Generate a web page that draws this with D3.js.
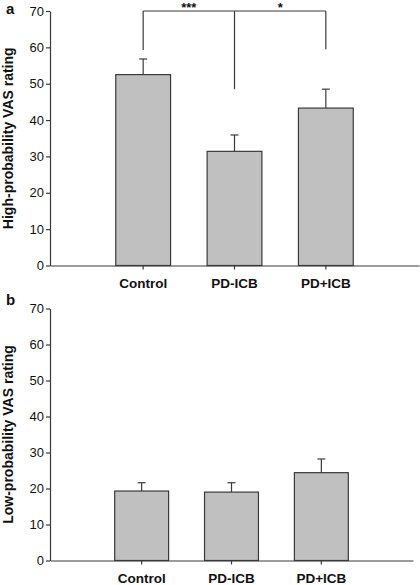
<!DOCTYPE html>
<html>
<head>
<meta charset="utf-8">
<script src="https://cdn.jsdelivr.net/npm/d3@7"></script>
<style>
  html, body { margin: 0; padding: 0; background: #fff; }
  svg { display: block; }
  text { font-family: "Liberation Sans", Arial, sans-serif; fill: #111; }
</style>
</head>
<body>
<svg id="chart" width="420" height="585"></svg>
<script>
// ---- data ----
const categories = ["Control", "PD-ICB", "PD+ICB"];
const highMeans = [52.5, 31.4, 43.3];
const highErr = [4.3, 4.5, 5.2];
const lowMeans = [19.3, 19.0, 24.4];
const lowErr = [2.3, 2.6, 3.8];
const yTicks = [0, 10, 20, 30, 40, 50, 60, 70];
const panelLetters = ["a", "b"];
const yTitles = ["High-probability VAS rating", "Low-probability VAS rating"];
// significance bracket (panel a): top level and drop ends per category
const bracketLevel = 70;
const bracketDrops = [59.3, 48.5, 59.5];
const sigLabels = ["***", "*"];

const svg = d3.select("#chart");
const stroke = "#3a3a3a";

function panel(cfg) {
  const g = svg.append("g");
  const y = d3.scaleLinear().domain([0, 70]).range([cfg.y0, cfg.y1]);
  const x = d3.scaleBand().domain(categories).range([50, cfg.xEnd])
    .paddingInner(0.4).paddingOuter(0.72);
  const cx = c => x(c) + x.bandwidth() / 2;

  // bars
  g.selectAll("rect.bar").data(categories).join("rect")
    .attr("x", c => x(c)).attr("width", x.bandwidth())
    .attr("y", (c, i) => y(cfg.means[i]))
    .attr("height", (c, i) => y(0) - y(cfg.means[i]))
    .attr("fill", "#c0c0c0").attr("stroke", stroke).attr("stroke-width", 1.2);

  // error bars (upper only)
  g.selectAll("line.err").data(categories).join("line")
    .attr("x1", cx).attr("x2", cx)
    .attr("y1", (c, i) => y(cfg.means[i]))
    .attr("y2", (c, i) => y(cfg.means[i] + cfg.errs[i]))
    .attr("stroke", stroke).attr("stroke-width", 1.2);
  g.selectAll("line.cap").data(categories).join("line")
    .attr("x1", c => cx(c) - 4).attr("x2", c => cx(c) + 4)
    .attr("y1", (c, i) => y(cfg.means[i] + cfg.errs[i]))
    .attr("y2", (c, i) => y(cfg.means[i] + cfg.errs[i]))
    .attr("stroke", stroke).attr("stroke-width", 1.2);

  // y axis
  const ya = g.append("g").attr("transform", "translate(50,0)")
    .call(d3.axisLeft(y).tickValues(yTicks).tickSize(4).tickSizeOuter(0).tickPadding(2));
  ya.selectAll("path, line").attr("stroke", stroke).attr("stroke-width", 1.2);
  ya.selectAll("text").attr("font-size", 13).attr("fill", "#111")
    .attr("font-family", "'Liberation Sans', Arial, sans-serif");

  // x axis
  const xa = g.append("g").attr("transform", `translate(0,${cfg.y0})`)
    .call(d3.axisBottom(x).tickSize(4).tickSizeOuter(0).tickPadding(9));
  xa.selectAll("path, line").attr("stroke", stroke).attr("stroke-width", 1.2);
  xa.selectAll("text").attr("font-size", 13.5).attr("font-weight", "bold").attr("fill", "#111")
    .attr("font-family", "'Liberation Sans', Arial, sans-serif");

  // y title
  const ymid = (cfg.y0 + cfg.y1) / 2;
  g.append("text")
    .attr("transform", `translate(13,${ymid}) rotate(-90)`)
    .attr("text-anchor", "middle")
    .attr("font-size", 14).attr("font-weight", "bold")
    .text(cfg.title);

  // panel letter
  g.append("text").attr("x", 6).attr("y", cfg.letterY)
    .attr("font-size", 15).attr("font-weight", "bold").text(cfg.letter);

  return { g, x, y, cx };
}

const pa = panel({ y0: 265.5, y1: 11, xEnd: 419, means: highMeans, errs: highErr,
  title: yTitles[0], letter: panelLetters[0], letterY: 14 });
panel({ y0: 560.5, y1: 308.5, xEnd: 413, means: lowMeans, errs: lowErr,
  title: yTitles[1], letter: panelLetters[1], letterY: 305 });

// significance bracket on panel a
const by = pa.y(bracketLevel);
pa.g.append("line")
  .attr("x1", pa.cx(categories[0])).attr("x2", pa.cx(categories[2]))
  .attr("y1", by).attr("y2", by)
  .attr("stroke", stroke).attr("stroke-width", 1.2);
pa.g.selectAll("line.drop").data(categories).join("line")
  .attr("x1", pa.cx).attr("x2", pa.cx)
  .attr("y1", by).attr("y2", (c, i) => pa.y(bracketDrops[i]))
  .attr("stroke", stroke).attr("stroke-width", 1.2);
pa.g.selectAll("text.sig").data(sigLabels).join("text")
  .attr("x", (s, i) => (pa.cx(categories[i]) + pa.cx(categories[i + 1])) / 2)
  .attr("y", 12)
  .attr("text-anchor", "middle").attr("font-size", 13).attr("font-weight", "bold")
  .text(s => s);
</script>
</body>
</html>
